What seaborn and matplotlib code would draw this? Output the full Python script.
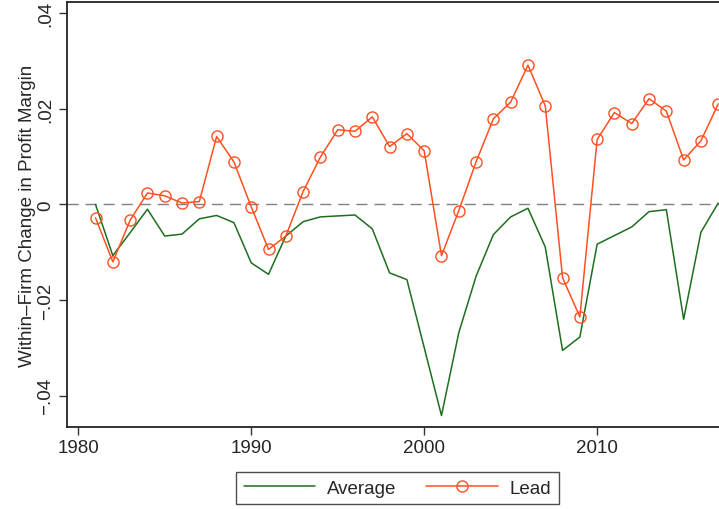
import matplotlib
matplotlib.use("Agg")
import matplotlib.pyplot as plt
import pandas as pd
import seaborn as sns

# Annual within-firm change in profit margin, 1981-2017
years = list(range(1981, 2018))
average = [0.0000, -0.0107, -0.0059, -0.0010, -0.0066, -0.0062, -0.0030, -0.0023,
           -0.0038, -0.0122, -0.0146, -0.0066, -0.0036, -0.0026, -0.0024, -0.0022,
           -0.0051, -0.0143, -0.0157, -0.0299, -0.0441, -0.0268, -0.0150, -0.0063,
           -0.0026, -0.0008, -0.0089, -0.0305, -0.0277, -0.0083, -0.0065, -0.0047,
           -0.0015, -0.0011, -0.0240, -0.0058, 0.0003]
lead = [-0.0028, -0.0120, -0.0033, 0.0024, 0.0018, 0.0003, 0.0006, 0.0142,
        0.0089, -0.0005, -0.0094, -0.0066, 0.0027, 0.0099, 0.0156, 0.0153,
        0.0183, 0.0121, 0.0148, 0.0112, -0.0107, -0.0013, 0.0089, 0.0179,
        0.0214, 0.0291, 0.0206, -0.0153, -0.0235, 0.0136, 0.0192, 0.0169,
        0.0221, 0.0195, 0.0093, 0.0133, 0.0210]
xticks = [1980, 1990, 2000, 2010]
yticks = [-0.04, -0.02, 0.0, 0.02, 0.04]
ytick_labels = ["\u2212.04", "\u2212.02", "0", ".02", ".04"]

sns.set_theme(style="white")
plt.rcParams["font.family"] = ["Liberation Sans", "DejaVu Sans"]

GREEN = "#1f6e1f"
ORANGE = "#ff5021"
FS = 13.5

df = pd.DataFrame({"year": years, "Average": average, "Lead": lead})

fig = plt.figure(figsize=(7.19, 5.10), dpi=100)
W, H = 719, 510
ax = fig.add_axes([67 / W, 82 / H, (721 - 67) / W, 425 / H])

ax.axhline(0, color="#808080", lw=1.0, ls=(0, (8, 5)), zorder=1)

sns.lineplot(data=df, x="year", y="Average", ax=ax, color=GREEN, lw=1.1,
             label="Average", zorder=2)
sns.lineplot(data=df, x="year", y="Lead", ax=ax, color=ORANGE, lw=1.1,
             marker="o", markersize=8, markerfacecolor="none",
             markeredgecolor=ORANGE, markeredgewidth=1.0,
             label="Lead", zorder=3)

ax.set_xlim(1979.35, 2017.16)
ax.set_ylim(-0.0465, 0.0423)

ax.set_xticks(xticks)
ax.set_xticklabels([str(t) for t in xticks], fontsize=FS)
ax.set_yticks(yticks)
ax.set_yticklabels(ytick_labels, fontsize=FS, rotation=90, va="center")
ax.tick_params(axis="both", direction="out", length=6, width=1.0,
               color="#333333", pad=3, bottom=True, left=True)

ax.set_xlabel("")
ax.set_ylabel("Within\u2013Firm Change in Profit Margin", fontsize=FS, labelpad=1)

for side in ["left", "bottom", "top"]:
    ax.spines[side].set_color("#222222")
    ax.spines[side].set_linewidth(1.3)
ax.spines["right"].set_visible(False)

ax.get_legend().remove()
handles, labels = ax.get_legend_handles_labels()
leg = fig.legend(handles, labels, loc="center",
                 bbox_to_anchor=(397.5 / W, 1 - 489 / H), ncol=2,
                 fontsize=FS, frameon=True, fancybox=False,
                 edgecolor="#222222", handlelength=3.8, handletextpad=0.65,
                 columnspacing=1.6, borderpad=0.4, borderaxespad=0.3,
                 numpoints=1)
leg.get_frame().set_linewidth(1.0)

fig.savefig("out.png", dpi=100)
